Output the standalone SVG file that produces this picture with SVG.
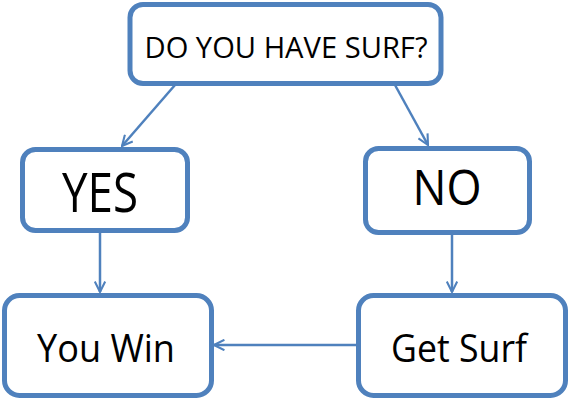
<svg xmlns="http://www.w3.org/2000/svg" width="570" height="400" viewBox="0 0 570 400">
<style>
.box{fill:#fff;stroke:#4f81bd;stroke-width:5}
.lbl{font-family:"Open Sans","Liberation Sans",sans-serif;fill:#000;text-anchor:middle}
.edge{stroke:#4f81bd;stroke-width:2.5;fill:none}
</style>
<defs>
<marker id="arr" viewBox="0 0 12 12" refX="11" refY="6" markerWidth="5" markerHeight="5" markerUnits="strokeWidth" orient="auto">
<path d="M1,1 L11,6 L1,11" fill="none" stroke="#4f81bd" stroke-width="2"/>
</marker>
</defs>
<g id="connectors">
<line class="edge" x1="175" y1="85" x2="122" y2="146" marker-end="url(#arr)"/>
<line class="edge" x1="395" y1="85" x2="428" y2="145" marker-end="url(#arr)"/>
<line class="edge" x1="100" y1="233" x2="100" y2="292" marker-end="url(#arr)"/>
<line class="edge" x1="452" y1="235" x2="452" y2="292" marker-end="url(#arr)"/>
<line class="edge" x1="356" y1="345" x2="214" y2="345" marker-end="url(#arr)"/>
</g>
<g id="n-question">
<rect class="box" x="130" y="4.5" width="311" height="79" rx="13"/>
<text class="lbl" x="286" y="58" font-size="29" textLength="283" lengthAdjust="spacingAndGlyphs">DO YOU HAVE SURF?</text>
</g>
<g id="n-yes">
<rect class="box" x="22.5" y="149.5" width="165" height="81" rx="13"/>
<text class="lbl" x="100" y="212" font-size="54" textLength="76" lengthAdjust="spacingAndGlyphs">YES</text>
</g>
<g id="n-no">
<rect class="box" x="365.5" y="148.5" width="164" height="84" rx="13"/>
<text class="lbl" x="447" y="205" font-size="49" textLength="69" lengthAdjust="spacingAndGlyphs">NO</text>
</g>
<g id="n-youwin">
<rect class="box" x="4.5" y="295.5" width="207" height="100" rx="15"/>
<text class="lbl" x="106" y="362" font-size="38" textLength="138" lengthAdjust="spacingAndGlyphs">You Win</text>
</g>
<g id="n-getsurf">
<rect class="box" x="358.5" y="295.5" width="207" height="100" rx="15"/>
<text class="lbl" x="459" y="362" font-size="38" textLength="136" lengthAdjust="spacingAndGlyphs">Get Surf</text>
</g>
</svg>
